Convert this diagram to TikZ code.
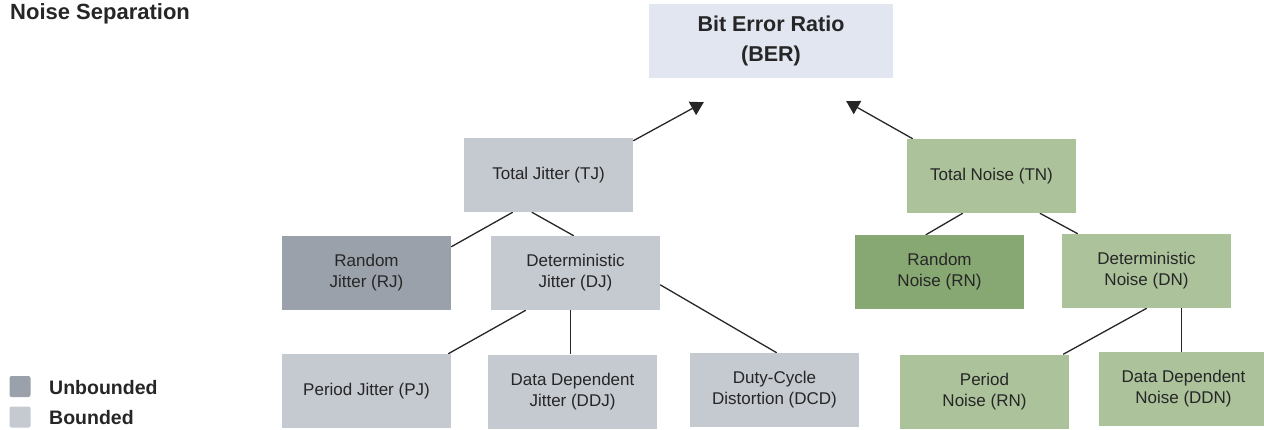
\documentclass[tikz,border=0pt]{standalone}
\usepackage{fontspec}
\setmainfont{Liberation Sans}
\usetikzlibrary{arrows.meta,calc,backgrounds}

\definecolor{ink}{HTML}{262626}
\definecolor{berfill}{HTML}{E1E6F0}
\definecolor{grayB}{HTML}{C5C9D0}
\definecolor{grayU}{HTML}{9BA1AB}
\definecolor{greenB}{HTML}{ABC29B}
\definecolor{greenU}{HTML}{88A873}

\tikzset{
  box/.style={rectangle, draw=none, inner sep=0pt, align=center,
    minimum width=169pt, minimum height=74pt, text=ink,
    font=\fontsize{17}{21}\selectfont},
  jbound/.style={box, fill=grayB},
  junbound/.style={box, fill=grayU},
  nbound/.style={box, fill=greenB},
  nunbound/.style={box, fill=greenU},
  link/.style={draw=ink, line width=1.3pt},
  uparrow/.style={link, -{Triangle[length=13pt,width=15pt]}},
  legendsq/.style={rectangle, rounded corners=2pt, minimum size=21pt, inner sep=0pt},
  legendtxt/.style={anchor=base west, inner sep=0pt, text=ink,
    font=\fontsize{19.5}{22}\selectfont\bfseries},
}

\begin{document}
\begin{tikzpicture}[x=1pt,y=-1pt]
\useasboundingbox (0,0) rectangle (1264,429);

% heading
\node[anchor=base west, inner sep=0pt, text=ink,
      font=\fontsize{22}{26}\selectfont\bfseries] (title) at (10,19) {Noise Separation};

% top of the tree
\node[box, fill=berfill, minimum width=244pt, minimum height=74pt,
      font=\fontsize{21.5}{30}\selectfont\bfseries] (ber) at (771,41) {Bit Error Ratio\\(BER)};

% jitter branch
\node[jbound]   (tj)  at (548.5,175) {Total Jitter (TJ)};
\node[junbound] (rj)  at (366.5,273) {Random\\Jitter (RJ)};
\node[jbound]   (dj)  at (575.5,273) {Deterministic\\Jitter (DJ)};
\node[jbound]   (pj)  at (366.5,391) {Period Jitter (PJ)};
\node[jbound]   (ddj) at (572.5,391.5) {Data Dependent\\Jitter (DDJ)};
\node[jbound]   (dcd) at (774.5,390) {Duty-Cycle\\Distortion (DCD)};

% noise branch
\node[nbound]   (tn)  at (991.5,176) {Total Noise (TN)};
\node[nunbound] (rn)  at (939.5,272) {Random\\Noise (RN)};
\node[nbound]   (dn)  at (1146.5,271) {Deterministic\\Noise (DN)};
\node[nbound]   (pn)  at (984.5,391.5) {Period\\Noise (RN)};
\node[nbound]   (ddn) at (1183.5,389) {Data Dependent\\Noise (DDN)};

% free ends of the two arrows
\coordinate (tipL) at ($(ber.south west)+(55,24)$);
\coordinate (tipR) at ($(ber.south east)+(-47,23)$);

\begin{scope}[on background layer]
  \draw[uparrow] ($(tj.north east)+(0,3)$) -- (tipL);
  \draw[uparrow] ($(tn.north west)+(6,0)$) -- (tipR);

  \draw[link] ($(tj.south west)+(49,0)$) -- ($(rj.north east)+(0,11)$);
  \draw[link] ($(tj.south west)+(68,0)$) -- ($(dj.north west)+(83,0)$);
  \draw[link] ($(dj.south west)+(35,0)$) -- ($(pj.north east)+(-3,0)$);
  \draw[link] ($(dj.south west)+(80,0)$) coordinate (ddjtop) -- (ddjtop |- ddj.north);
  \draw[link] ($(dj.north east)+(0,49)$) -- ($(dcd.north west)+(87,0)$);

  \draw[link] ($(tn.south west)+(56,0)$) -- ($(rn.north west)+(71,0)$);
  \draw[link] ($(tn.south west)+(133,0)$) -- ($(dn.north west)+(16,0)$);
  \draw[link] ($(dn.south west)+(85,0)$) -- ($(pn.north east)+(-6,0)$);
  \draw[link] ($(dn.south west)+(120,0)$) coordinate (ddntop) -- (ddntop |- ddn.north);
\end{scope}

% legend
\node[legendsq, fill=grayU] (lu) at (20,386.5) {};
\node[legendsq, fill=grayB] (lb) at (20,417) {};
\node[legendtxt] (lut) at (49,394) {Unbounded};
\node[legendtxt] (lbt) at (49,424) {Bounded};
\end{tikzpicture}
\end{document}
